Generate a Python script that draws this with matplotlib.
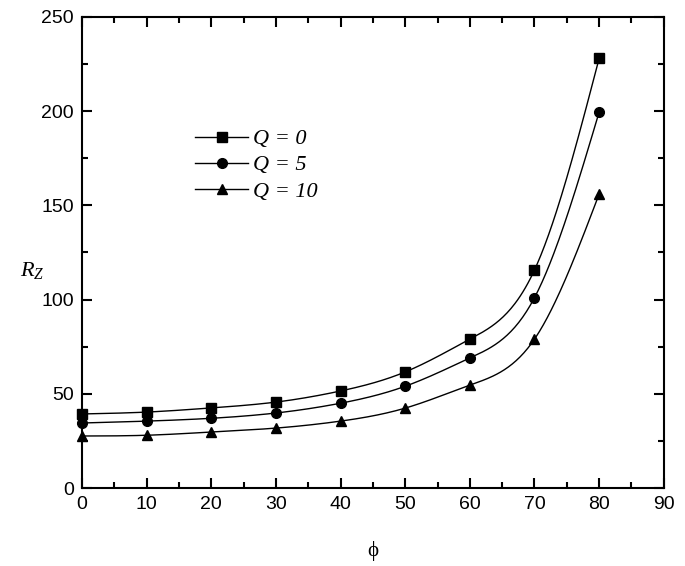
import numpy as np
import matplotlib
matplotlib.use("Agg")
import matplotlib.pyplot as plt
from matplotlib.ticker import MultipleLocator

plt.rcParams["font.family"] = ["Liberation Sans", "DejaVu Sans"]
plt.rcParams["mathtext.fontset"] = "custom"
plt.rcParams["mathtext.it"] = "Liberation Serif:italic"
plt.rcParams["mathtext.rm"] = "Liberation Serif"

phi = [0, 10, 20, 30, 40, 50, 60, 70, 80]
rz_q0 = [39.3, 40.3, 42.5, 45.6, 51.5, 61.6, 79.0, 115.7, 228.0]
rz_q5 = [34.5, 35.5, 37.0, 39.8, 45.0, 54.0, 69.0, 101.0, 199.5]
rz_q10 = [27.6, 28.0, 29.7, 31.8, 35.5, 42.4, 54.6, 79.0, 156.0]
labels = ["Q = 0", "Q = 5", "Q = 10"]
markers = ["s", "o", "^"]


def natural_spline(x, y, n=400):
    # natural cubic spline through the data points, for the smooth line
    x = np.asarray(x, float)
    y = np.asarray(y, float)
    h = np.diff(x)
    m = len(x)
    A = np.zeros((m, m))
    r = np.zeros(m)
    A[0, 0] = A[-1, -1] = 1
    for i in range(1, m - 1):
        A[i, i - 1] = h[i - 1]
        A[i, i] = 2 * (h[i - 1] + h[i])
        A[i, i + 1] = h[i]
        r[i] = 3 * ((y[i + 1] - y[i]) / h[i] - (y[i] - y[i - 1]) / h[i - 1])
    c = np.linalg.solve(A, r)
    b = (np.diff(y) / h) - h * (2 * c[:-1] + c[1:]) / 3
    d = np.diff(c) / (3 * h)
    xs = np.linspace(x[0], x[-1], n)
    k = np.clip(np.searchsorted(x, xs) - 1, 0, m - 2)
    t = xs - x[k]
    ys = y[k] + b[k] * t + c[k] * t**2 + d[k] * t**3
    return xs, ys


fig = plt.figure(figsize=(6.85, 5.66), dpi=100)
ax = fig.add_axes([0.1197, 0.1378, 0.8493, 0.8322])

for ys, lab, mk in zip([rz_q0, rz_q5, rz_q10], labels, markers):
    xs, yy = natural_spline(phi, ys)
    ax.plot(xs, yy, color="black", lw=1.0)
    ax.plot(phi, ys, ls="none", marker=mk, color="black", ms=7, clip_on=False)
    ax.plot([], [], color="black", lw=1.0, marker=mk, ms=7, label=lab)

ax.set_xlim(0, 90)
ax.set_ylim(0, 250)
ax.xaxis.set_major_locator(MultipleLocator(10))
ax.xaxis.set_minor_locator(MultipleLocator(5))
ax.yaxis.set_major_locator(MultipleLocator(50))
ax.yaxis.set_minor_locator(MultipleLocator(25))
ax.tick_params(which="both", direction="in", top=True, right=True, width=1.5)
ax.tick_params(which="major", length=7, labelsize=14, pad=6)
ax.tick_params(which="minor", length=4)
for s in ax.spines.values():
    s.set_linewidth(1.5)

ax.set_xlabel("ϕ", fontsize=15, family="Liberation Serif", labelpad=20)
ax.set_ylabel(r"$R_Z$", fontsize=16, rotation=0)
ax.yaxis.set_label_coords(-0.085, 0.44)

leg = ax.legend(loc="upper left", bbox_to_anchor=(0.16, 0.805), frameon=False,
                prop={"family": "Liberation Serif", "style": "italic", "size": 16},
                handlelength=2.4, labelspacing=0.25, handletextpad=0.2)

fig.savefig("out.png", dpi=100)
